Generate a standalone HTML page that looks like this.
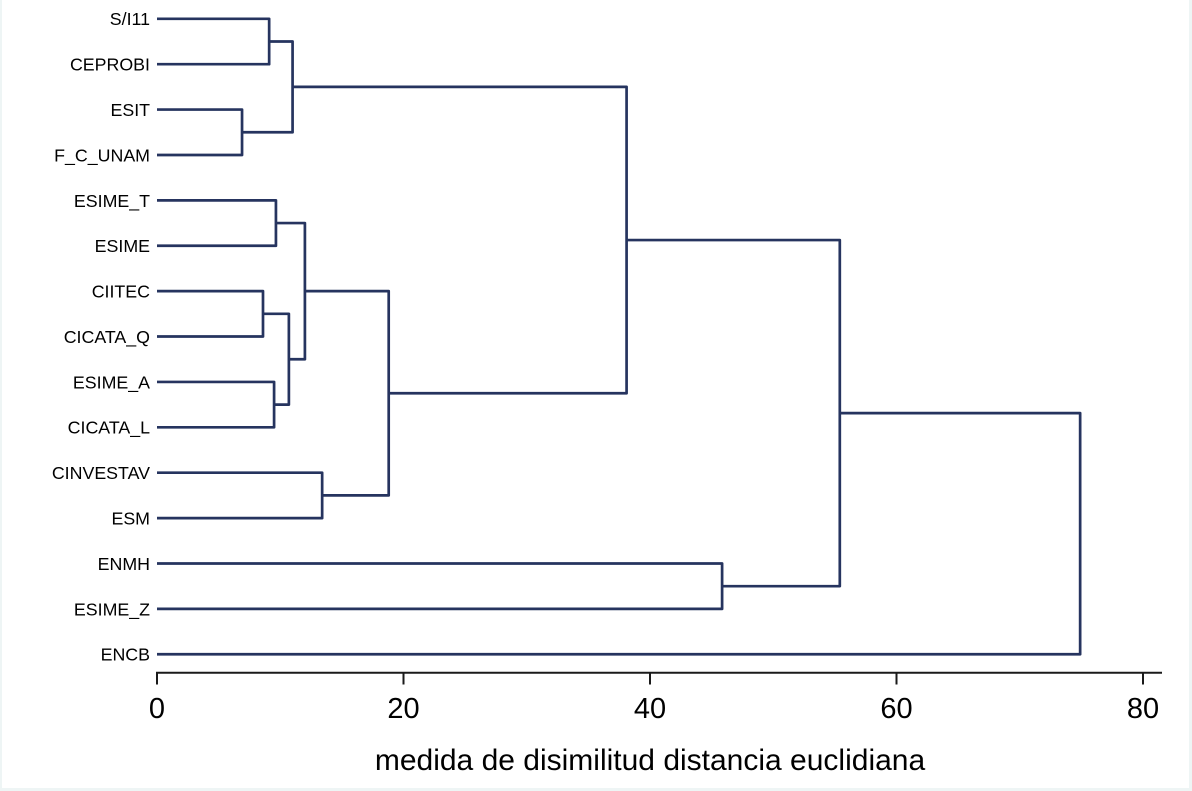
<!DOCTYPE html>
<html lang="es">
<head>
<meta charset="utf-8">
<title>Dendrograma</title>
<style>
html,body{margin:0;padding:0;background:#fff;width:1192px;height:791px;overflow:hidden}
svg{display:block}
text{font-family:"Liberation Sans",Arial,sans-serif;fill:#000}
</style>
</head>
<body>
<svg id="chart" width="1192" height="791" viewBox="0 0 1192 791" xmlns="http://www.w3.org/2000/svg">
  <rect x="0" y="0" width="1192" height="791" fill="#eef5f5"></rect>
  <rect x="2" y="0" width="1187" height="788" fill="#ffffff"></rect>
  <g id="links"></g>
  <g id="labels"></g>
  <g id="axis"></g>
  <text x="650" y="770" font-size="30" text-anchor="middle">medida de disimilitud distancia euclidiana</text>
</svg>
<script>
// Data: leaves top to bottom
const leaves = ["S/I11","CEPROBI","ESIT","F_C_UNAM","ESIME_T","ESIME","CIITEC","CICATA_Q","ESIME_A","CICATA_L","CINVESTAV","ESM","ENMH","ESIME_Z","ENCB"];
// Merges: children are leaf names or earlier merge ids ("m0", "m1", ...)
const mergeLeft = ["S/I11","ESIT","m0","ESIME_T","CIITEC","ESIME_A","m4","m3","CINVESTAV","m7","m2","ENMH","m10","m12"];
const mergeRight = ["CEPROBI","F_C_UNAM","m1","ESIME","CICATA_Q","CICATA_L","m5","m6","ESM","m8","m9","ESIME_Z","m11","ENCB"];
const mergeHeights = [9.1,6.9,11.0,9.65,8.6,9.5,10.7,12.0,13.4,18.8,38.1,45.85,55.4,74.9];
const tickValues = [0,20,40,60,80];

const NS = "http://www.w3.org/2000/svg";
const xScale = v => 157 + v * 12.325;
const yScale = i => 18.8 + i * 45.39;
const linksG = document.getElementById("links");
const labelsG = document.getElementById("labels");
const axisG = document.getElementById("axis");

function node(parent, tag, attrs) {
  const el = document.createElementNS(NS, tag);
  for (const k in attrs) el.setAttribute(k, attrs[k]);
  parent.appendChild(el);
  return el;
}

const pos = {};
leaves.forEach((name, i) => {
  pos[name] = { x: xScale(0), y: yScale(i) };
  const t = node(labelsG, "text", { x: 150, y: yScale(i) + 6.4, "font-size": 17.8, "text-anchor": "end" });
  t.textContent = name;
  
  
});

mergeHeights.forEach((h, i) => {
  const a = pos[mergeLeft[i]];
  const b = pos[mergeRight[i]];
  const x = xScale(h);
  const p = node(linksG, "path", {
    d: `M${a.x} ${a.y}H${x}V${b.y}H${b.x}`,
    fill: "none", stroke: "#26345f", "stroke-width": 2.7, "stroke-linejoin": "round"
  });
  
  
  pos["m" + i] = { x: x, y: (a.y + b.y) / 2 };
});

const axisLine = node(axisG, "line", { x1: xScale(0) - 1, x2: 1162, y1: 672.7, y2: 672.7, stroke: "#1a1a1a", "stroke-width": 2 });


tickValues.forEach(v => {
  const x = xScale(v);
  const tick = node(axisG, "line", { x1: x, x2: x, y1: 672, y2: 684.5, stroke: "#1a1a1a", "stroke-width": 2 });
  
  
  const t = node(axisG, "text", { x: x, y: 718, "font-size": 29, "text-anchor": "middle" });
  t.textContent = String(v);
  
  
});
</script>
</body>
</html>
